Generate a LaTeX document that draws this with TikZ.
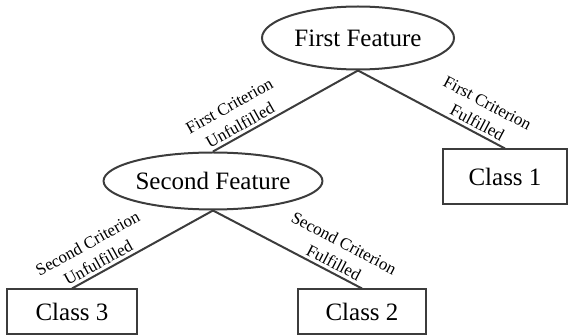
\documentclass[tikz,border=0pt]{standalone}
\usepackage{fontspec}
\setmainfont{Liberation Serif}
\usetikzlibrary{shapes.geometric}
\definecolor{edgegray}{HTML}{3C3C3C}

\begin{document}
\begin{tikzpicture}[x=0.5pt,y=-0.5pt,
  feature/.style={draw=edgegray, line width=1pt, ellipse, inner sep=0pt, font=\fontsize{12.5}{14}\selectfont},
  leaf/.style={draw=edgegray, line width=1pt, rectangle, inner sep=0pt, font=\fontsize{12.5}{14}\selectfont},
  crit/.style={font=\fontsize{8.5}{11}\selectfont, align=center, sloped, above, pos=0.78, inner sep=1.5pt},
  link/.style={draw=edgegray, line width=1pt}]
\useasboundingbox (0,0) rectangle (569,336);

\node[feature, minimum width=96pt, minimum height=31.5pt] (first) at (358,38) {First Feature};
\node[feature, minimum width=102pt, minimum height=28.5pt] (second) at (213,181) {Second Feature};
\node[leaf, minimum width=62pt, minimum height=27.5pt] (class1) at (505,177) {Class 1};
\node[leaf, minimum width=65pt, minimum height=22.5pt] (class3) at (72,312) {Class 3};
\node[leaf, minimum width=64pt, minimum height=22.5pt] (class2) at (362,312) {Class 2};

\draw[link] (first.south) -- node[crit] {First Criterion\\Unfulfilled} (second.north);
\draw[link] (first.south) -- node[crit] {First Criterion\\Fulfilled} (class1.north);
\draw[link] (second.south) -- node[crit] {Second Criterion\\Unfulfilled} (class3.north);
\draw[link] (second.south) -- node[crit] {Second Criterion\\Fulfilled} (class2.north);
\end{tikzpicture}
\end{document}
